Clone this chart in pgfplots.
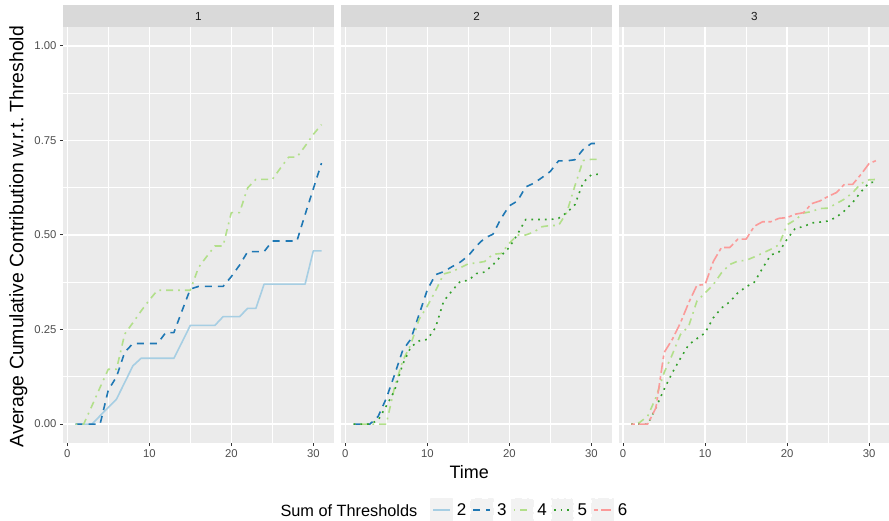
\documentclass[border=0pt]{standalone}
\usepackage{fontspec}
\setmainfont{Liberation Sans}
\usepackage{pgfplots}
\pgfplotsset{compat=1.18}
\usepackage{pgfplotstable}

\definecolor{panelbg}{HTML}{EBEBEB}
\definecolor{stripbg}{HTML}{D9D9D9}
\definecolor{tickcol}{HTML}{333333}
\definecolor{labcol}{HTML}{4D4D4D}
\definecolor{striptxt}{HTML}{1A1A1A}
\definecolor{keybg}{HTML}{F2F2F2}
\definecolor{c2}{HTML}{A6CEE3}
\definecolor{c3}{HTML}{1F78B4}
\definecolor{c4}{HTML}{B2DF8A}
\definecolor{c5}{HTML}{33A02C}
\definecolor{c6}{HTML}{FB9A99}

% panel 1: thresholds 2, 3, 4
\pgfplotstableread{
t  s2     s3     s4
1  0      0      0
2  0      0      0
3  0      0      0.048
4  0.022  0      0.097
5  0.044  0.090  0.145
6  0.066  0.125  0.145
7  0.110  0.190  0.238
8  0.154  0.213  0.268
9  0.174  0.213  0.299
10 0.174  0.213  0.328
11 0.174  0.213  0.354
12 0.174  0.242  0.354
13 0.174  0.242  0.354
14 0.217  0.300  0.354
15 0.261  0.357  0.354
16 0.261  0.364  0.414
17 0.261  0.364  0.443
18 0.261  0.364  0.471
19 0.284  0.364  0.471
20 0.284  0.390  0.559
21 0.284  0.420  0.559
22 0.306  0.456  0.625
23 0.306  0.456  0.647
24 0.370  0.456  0.647
25 0.370  0.484  0.647
26 0.370  0.484  0.677
27 0.370  0.484  0.706
28 0.370  0.484  0.706
29 0.370  0.554  0.735
30 0.458  0.622  0.766
31 0.458  0.690  0.792
}\panelA

% panel 2: thresholds 3, 4, 5
\pgfplotstableread{
t  s3     s4     s5
1  0      0      0
2  0      0      0
3  0      0      0
4  0.020  0      0.010
5  0.068  0      0.048
6  0.130  0.097  0.088
7  0.195  0.167  0.158
8  0.225  0.211  0.204
9  0.290  0.277  0.220
10 0.355  0.312  0.224
11 0.395  0.352  0.255
12 0.403  0.397  0.325
13 0.416  0.403  0.352
14 0.428  0.413  0.377
15 0.445  0.424  0.380
16 0.471  0.426  0.398
17 0.492  0.430  0.402
18 0.502  0.449  0.421
19 0.544  0.451  0.445
20 0.577  0.478  0.467
21 0.590  0.500  0.502
22 0.627  0.500  0.541
23 0.637  0.508  0.541
24 0.652  0.522  0.541
25 0.668  0.525  0.541
26 0.696  0.525  0.544
27 0.696  0.559  0.559
28 0.699  0.630  0.580
29 0.726  0.697  0.639
30 0.742  0.700  0.659
31 0.742  0.700  0.661
}\panelB

% panel 3: thresholds 4, 5, 6
\pgfplotstableread{
t  s4     s5     s6
1  0      0      0
2  0.004  0      0
3  0.021  0      0
4  0.070  0.043  0.043
5  0.136  0.092  0.189
6  0.184  0.136  0.224
7  0.237  0.174  0.268
8  0.259  0.210  0.321
9  0.325  0.226  0.367
10 0.347  0.241  0.369
11 0.369  0.281  0.430
12 0.400  0.307  0.467
13 0.422  0.323  0.467
14 0.431  0.347  0.489
15 0.433  0.363  0.489
16 0.442  0.375  0.523
17 0.452  0.412  0.535
18 0.462  0.447  0.535
19 0.474  0.455  0.544
20 0.527  0.489  0.546
21 0.540  0.518  0.555
22 0.558  0.522  0.559
23 0.562  0.532  0.583
24 0.570  0.534  0.590
25 0.571  0.537  0.602
26 0.583  0.547  0.612
27 0.595  0.564  0.634
28 0.612  0.586  0.634
29 0.636  0.614  0.660
30 0.646  0.638  0.689
31 0.647  0.641  0.698
}\panelC

\pgfplotsset{
  facet/.style={
    scale only axis, width=270.6pt, height=416pt,
    xmin=-0.5, xmax=32.5, ymin=-0.05, ymax=1.05,
    axis background/.style={fill=panelbg},
    axis line style={draw=none},
    xtick={0,10,20,30}, minor xtick={5,15,25},
    ytick={0,0.25,0.5,0.75,1}, minor ytick={0.125,0.375,0.625,0.875},
    xticklabels={0,10,20,30},
    grid=both,
    major grid style={white, line width=1.4pt},
    minor grid style={white, line width=0.7pt},
    tick align=outside, tick pos=left,
    major tick length=3.2pt, minor tick length=0pt,
    tick style={tickcol, line width=1pt},
    ticklabel style={font=\fontsize{11.3}{13}\selectfont, text=labcol},
    /pgf/number format/assume math mode=true,
  },
  sl/.style={line width=1.6pt, line cap=butt, line join=round},
  st2/.style={sl, c2, solid},
  st3/.style={sl, c3, dash pattern=on 7pt off 6pt},
  st4/.style={sl, c4, dash pattern=on 1.8pt off 5pt on 7pt off 5pt},
  st5/.style={sl, c5, dash pattern=on 1.8pt off 5pt},
  st6/.style={sl, c6, dash pattern=on 3.5pt off 3.5pt on 10.5pt off 3.5pt},
}

\begin{document}
\frenchspacing
\begin{tikzpicture}
\path[use as bounding box] (0,0) rectangle (889pt,521pt);

\begin{axis}[facet, name=p1, at={(63.2pt,494pt)}, anchor=north west,
    yticklabels={0.00,0.25,0.50,0.75,1.00},
    legend image code/.code={
      \fill[keybg] (0pt,-10.85pt) rectangle (21.7pt,10.85pt);
      \draw[#1] (2.3pt,0pt) -- (19.4pt,0pt);
    },
    legend columns=5,
    legend style={at={(1.3555,-0.16106)}, anchor=west, draw=none, fill=none,
      inner sep=0pt, outer sep=0pt, column sep=0pt,
      nodes={inner sep=0pt, font=\fontsize{17}{18}\selectfont},
      /tikz/every odd column/.append style={column sep=3.6pt},
      /tikz/every even column/.append style={column sep=3.9pt}},
  ]
  \addplot[st2, forget plot] table[x=t, y=s2] {\panelA};
  \addplot[st3, forget plot] table[x=t, y=s3] {\panelA};
  \addplot[st4, forget plot] table[x=t, y=s4] {\panelA};
  \addlegendimage{st2}
  \addlegendimage{st3}
  \addlegendimage{st4}
  \addlegendimage{st5}
  \addlegendimage{st6}
  \legend{2,3,4,5,6}
\end{axis}

\begin{axis}[facet, name=p2, at={(341.2pt,494pt)}, anchor=north west,
    ymajorticks=false]
  \addplot[st3] table[x=t, y=s3] {\panelB};
  \addplot[st4] table[x=t, y=s4] {\panelB};
  \addplot[st5] table[x=t, y=s5] {\panelB};
\end{axis}

\begin{axis}[facet, name=p3, at={(619pt,494pt)}, anchor=north west,
    ymajorticks=false]
  \addplot[st4] table[x=t, y=s4] {\panelC};
  \addplot[st5] table[x=t, y=s5] {\panelC};
  \addplot[st6] table[x=t, y=s6] {\panelC};
\end{axis}

% facet strips
\foreach \p/\lab in {p1/1,p2/2,p3/3}{
  \fill[stripbg] (\p.north west) rectangle ([yshift=21.7pt]\p.north east);
  \node[font=\fontsize{11.7}{13}\selectfont, text=striptxt] at ([yshift=10.85pt]\p.north) {\lab};
}

% axis titles
\node[rotate=90, anchor=base, font=\fontsize{19.4}{21}\selectfont] at (23.3pt,284.5pt)
  {Average Cumulative Contribution w.r.t. Threshold};
\node[anchor=base, font=\fontsize{18}{20}\selectfont] at (469.2pt,42.3pt) {Time};

% legend title
\node[anchor=base west, font=\fontsize{16.3}{18}\selectfont] at (277pt,4.4pt) {Sum of Thresholds};
\end{tikzpicture}
\end{document}
